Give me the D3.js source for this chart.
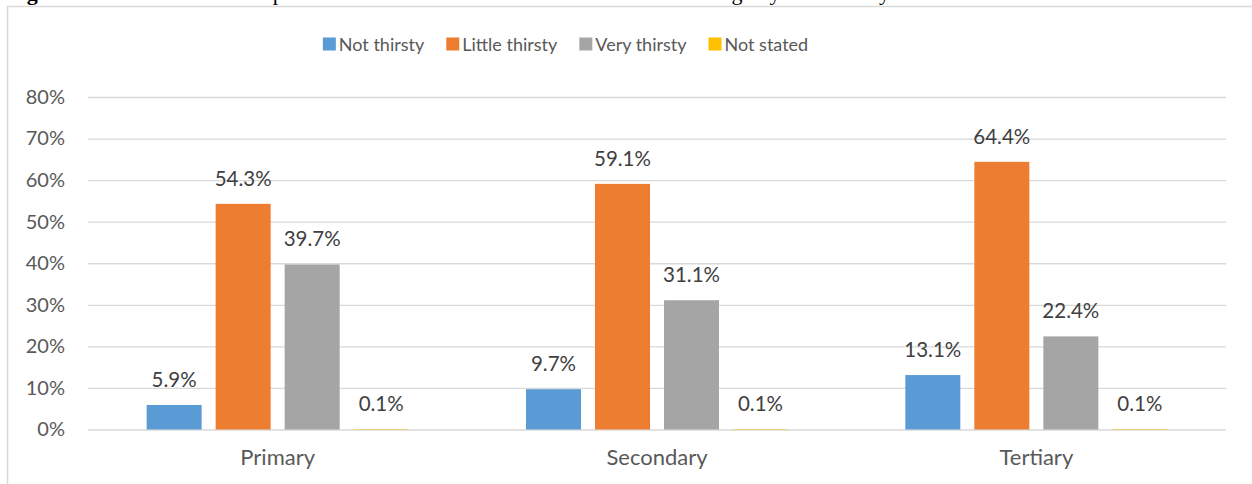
<!DOCTYPE html>
<html>
<head>
<meta charset="utf-8">
<script src="https://cdn.jsdelivr.net/npm/d3@7"></script>
<style>
  html, body { margin: 0; padding: 0; background: #fff; }
  svg { display: block; }
  text { font-family: Lato, "Open Sans", sans-serif; }
</style>
</head>
<body>
<div id="chart"></div>
<script>
// chart values
const categories = ["Primary", "Secondary", "Tertiary"];
const seriesNames = ["Not thirsty", "Little thirsty", "Very thirsty", "Not stated"];
const notThirsty = [5.9, 9.7, 13.1];
const littleThirsty = [54.3, 59.1, 64.4];
const veryThirsty = [39.7, 31.1, 22.4];
const notStated = [0.1, 0.1, 0.1];
const yTicks = [0, 10, 20, 30, 40, 50, 60, 70, 80];
const colors = ["#5b9bd5", "#ed7d31", "#a5a5a5", "#ffc000"];

const values = [notThirsty, littleThirsty, veryThirsty, notStated];

const width = 1252, height = 484;
const plot = { left: 88, right: 1226, top: 97, bottom: 429.5 };

const svg = d3.select("#chart").append("svg")
    .attr("width", width)
    .attr("height", height);

// caption of the report, mostly cut off above the picture
svg.append("text")
    .attr("x", 0)
    .attr("y", 0)
    .attr("textLength", 890)
    .attr("lengthAdjust", "spacing")
    .style("font-family", "'Liberation Serif', serif")
    .style("font-size", "22px")
    .attr("fill", "#000")
    .html("<tspan font-weight='bold'>Figure 5</tspan>: Share of respondents on thirst level while working by industry");

// chart frame
svg.append("path")
    .attr("d", `M7.5,${height + 5} V6.5 H${width + 5}`)
    .attr("fill", "none")
    .attr("stroke", "#d9d9d9")
    .attr("stroke-width", 1.5);

const y = d3.scaleLinear().domain([0, 80]).range([plot.bottom, plot.top]);
const x0 = d3.scaleBand().domain(categories).range([plot.left, plot.right]);
const x1 = d3.scaleBand().domain(seriesNames)
    .range([0, x0.bandwidth()])
    .paddingInner(0.203)
    .paddingOuter(0.85);

// y axis + gridlines
const yAxis = svg.append("g")
    .attr("transform", `translate(${plot.left},0)`)
    .call(d3.axisLeft(y)
        .tickValues(yTicks)
        .tickFormat(d => d + "%")
        .tickSize(-(plot.right - plot.left))
        .tickPadding(23));
yAxis.select(".domain").remove();
yAxis.selectAll("line").attr("stroke", "#d9d9d9").attr("stroke-width", 1.3);
yAxis.selectAll("text")
    .attr("fill", "#595959")
    .style("font-size", "20px")
    .style("font-family", "Lato, sans-serif");

// x axis labels
const xAxis = svg.append("g")
    .attr("transform", `translate(0,${plot.bottom})`)
    .call(d3.axisBottom(x0).tickSize(0).tickPadding(20));
xAxis.select(".domain").remove();
xAxis.selectAll("text")
    .attr("fill", "#595959")
    .style("font-size", "22px")
    .style("font-family", "Lato, sans-serif");

// bars
const groups = svg.selectAll("g.cat")
    .data(categories)
    .enter()
    .append("g")
    .attr("class", "cat")
    .attr("transform", d => `translate(${x0(d)},0)`);

groups.each(function(cat, ci) {
    const g = d3.select(this);
    const rows = seriesNames.map((s, si) => ({ s, si, v: values[si][ci] }));

    g.selectAll("rect")
        .data(rows)
        .enter()
        .append("rect")
        .attr("x", d => x1(d.s))
        .attr("y", d => y(d.v))
        .attr("width", x1.bandwidth())
        .attr("height", d => y(0) - y(d.v))
        .attr("fill", d => colors[d.si]);

    g.selectAll("text.lbl")
        .data(rows)
        .enter()
        .append("text")
        .attr("class", "lbl")
        .attr("x", d => x1(d.s) + x1.bandwidth() / 2)
        .attr("y", d => y(d.v) - 18)
        .attr("text-anchor", "middle")
        .attr("fill", "#404040")
        .style("font-size", "20.5px")
        .text(d => d.v.toFixed(1) + "%");
});

// legend, centred where the reference has it
const legend = svg.append("g");
let lx = 0;
seriesNames.forEach((s, i) => {
    const item = legend.append("g").attr("transform", `translate(${lx},0)`);
    item.append("rect")
        .attr("x", 0)
        .attr("y", -6.5)
        .attr("width", 13)
        .attr("height", 13)
        .attr("fill", colors[i]);
    const t = item.append("text")
        .attr("x", 16)
        .attr("y", 6.5)
        .attr("fill", "#595959")
        .style("font-size", "18px")
        .text(s);
    lx += 16 + t.node().getComputedTextLength() + (i < seriesNames.length - 1 ? 22 : 0);
});
legend.attr("transform", `translate(${565.5 - lx / 2},44)`);
</script>
</body>
</html>
